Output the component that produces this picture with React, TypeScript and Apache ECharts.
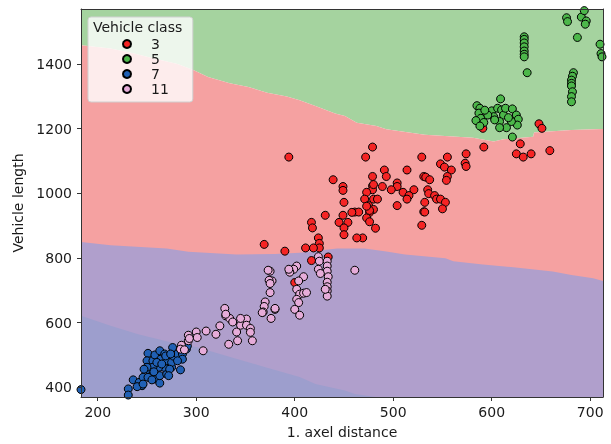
import React, { useEffect, useRef } from 'react';
import * as echarts from 'echarts';

const FONT = "'DejaVu Sans', 'Liberation Sans', sans-serif";
const TEXT = '#1a1a1a';

const X_MIN = 183;
const X_MAX = 713;
const Y_MIN = 370;
const Y_MAX = 1570;

const xTicks = [200, 300, 400, 500, 600, 700];
const yTicks = [400, 600, 800, 1000, 1200, 1400];

const classNames = ['3', '5', '7', '11'];
const classColors = ['#f52424', '#4cb74a', '#2060b4', '#e6acd9'];

const class3 = [
  [591, 1201], [648, 1215], [651, 1201], [592, 1143], [629, 1153], [625, 1122], [632, 1112], [640, 1122],
  [659, 1132], [574, 1122], [573, 1093], [574, 1083], [479, 1143], [472, 1112], [529, 1112], [555, 1112],
  [548, 1091], [552, 1081], [559, 1072], [491, 1072], [514, 1072], [479, 1052], [493, 1052], [531, 1052],
  [533, 1050], [537, 1042], [555, 1052], [554, 1040], [504, 1032], [504, 1021], [489, 1021], [479, 1023],
  [479, 1011], [498, 1011], [510, 1003], [521, 1011], [535, 1011], [536, 999], [516, 993], [514, 982],
  [542, 993], [544, 982], [548, 982], [553, 972], [532, 972], [473, 1003], [471, 982], [480, 982],
  [484, 982], [475, 962], [480, 950], [476, 941], [504, 962], [550, 952], [531, 943], [473, 924],
  [476, 912], [482, 892], [529, 901], [469, 862], [439, 1042], [449, 1021], [449, 1009], [480, 1027],
  [450, 972], [431, 932], [449, 932], [461, 942], [465, 942], [476, 947], [532, 942], [458, 941],
  [473, 960], [445, 910], [454, 910], [417, 910], [418, 893], [450, 893], [450, 872], [463, 862],
  [424, 862], [425, 845], [425, 831], [419, 831], [411, 831], [390, 821], [369, 842], [417, 792],
  [434, 803], [400, 724], [394, 1112],
];

const class5 = [
  [676, 1543], [677, 1531], [691, 1545], [694, 1565], [696, 1533], [695, 1523], [687, 1482], [710, 1461],
  [711, 1432], [712, 1422], [633, 1484], [633, 1476], [633, 1465], [633, 1453], [633, 1440], [633, 1430],
  [633, 1422], [636, 1373], [683, 1373], [682, 1362], [681, 1350], [681, 1340], [681, 1332], [682, 1314],
  [681, 1299], [681, 1283], [609, 1292], [585, 1271], [588, 1263], [587, 1248], [589, 1232], [584, 1225],
  [592, 1219], [600, 1255], [602, 1237], [606, 1263], [610, 1258], [612, 1242], [608, 1222], [614, 1263],
  [621, 1261], [625, 1242], [627, 1229], [626, 1211], [620, 1222], [615, 1203], [608, 1203], [588, 1208],
  [621, 1174], [596, 1242], [603, 1227], [617, 1234], [593, 1257],
];

const class7 = [
  [183, 393], [231, 395], [231, 376], [236, 423], [242, 415], [245, 405], [246, 431], [240, 402],
  [251, 505], [250, 482], [256, 482], [258, 500], [263, 513], [264, 487], [253, 451], [256, 441],
  [251, 431], [258, 426], [263, 413], [263, 436], [270, 441], [275, 462], [267, 462], [262, 462],
  [270, 482], [275, 477], [277, 496], [276, 523], [281, 503], [284, 518], [286, 503], [286, 487],
  [281, 482], [284, 454], [290, 518], [291, 528], [268, 503], [256, 462], [250, 462], [247, 456],
  [260, 477], [265, 472], [273, 456], [272, 436], [255, 423], [257, 448], [269, 497], [274, 503],
  [246, 410],
];

const class11 = [
  [424, 804], [425, 790], [433, 790], [433, 775], [433, 759], [434, 742], [433, 725], [433, 711],
  [433, 698], [433, 682], [431, 703], [424, 765], [426, 752], [461, 762], [402, 775], [399, 765],
  [395, 756], [394, 765], [409, 742], [404, 729], [402, 703], [405, 688], [409, 691], [412, 693],
  [402, 672], [404, 662], [400, 641], [405, 623], [380, 641], [377, 729], [375, 759], [375, 693],
  [373, 762], [374, 731], [375, 721], [370, 664], [369, 650], [368, 633], [376, 613], [380, 644],
  [367, 631], [329, 644], [330, 621], [334, 613], [324, 590], [320, 564], [333, 533], [341, 571],
  [345, 592], [351, 611], [345, 613], [351, 592], [355, 582], [355, 570], [357, 544], [342, 544],
  [310, 574], [300, 571], [301, 554], [292, 561], [292, 544], [285, 530], [284, 518], [307, 513],
  [288, 516], [330, 626], [293, 551], [337, 602],
];

// decision-region boundaries (x, y), left to right
const boundaryGreenRed = [
  [183, 1458], [213, 1448], [236, 1433], [253, 1420], [281, 1400], [297, 1381], [312, 1360], [334, 1340],
  [353, 1329], [372, 1311], [392, 1299], [405, 1288], [421, 1270], [441, 1247], [451, 1239], [463, 1218],
  [483, 1208], [493, 1198], [532, 1181], [581, 1172], [602, 1160], [612, 1167], [642, 1175], [643, 1188],
  [681, 1196], [713, 1199],
];
const boundaryRedPurple = [
  [183, 849], [213, 839], [270, 829], [292, 819], [341, 811], [380, 812], [405, 816], [443, 829],
  [471, 829], [493, 820], [512, 811], [553, 799], [561, 790], [591, 780], [622, 771], [662, 758],
  [681, 747], [703, 737], [713, 729],
];
const boundaryPurpleBlue = [
  [183, 621], [213, 590], [241, 564], [277, 537], [301, 524], [331, 497], [365, 467], [405, 432],
  [421, 410], [451, 390], [461, 379], [482, 370],
];

const regionColors = ['#a5d39f', '#f5a1a1', '#b09fcc', '#9d9ecd'];

const regionPolygons = [
  [...boundaryGreenRed, [X_MAX, Y_MAX], [X_MIN, Y_MAX]],
  [...boundaryGreenRed, [X_MAX, Y_MIN], [X_MIN, Y_MIN]],
  [...boundaryRedPurple, [X_MAX, Y_MIN], [X_MIN, Y_MIN]],
  [...boundaryPurpleBlue, [X_MIN, Y_MIN]],
];

const classData = [class3, class5, class7, class11];

export default function App() {
  const ref = useRef<HTMLDivElement>(null);

  useEffect(() => {
    if (!ref.current) return;
    const chart = echarts.init(ref.current, null, { renderer: 'svg' });

    const axisText = { fontFamily: FONT, fontSize: 14, color: TEXT };

    const option: any = {
      animation: false,
      textStyle: { fontFamily: FONT },
      grid: { left: 81, right: 8, top: 9, bottom: 46 },
      xAxis: [
        {
          type: 'value',
          min: X_MIN,
          max: X_MAX,
          z: 10,
          name: '1. axel distance',
          nameLocation: 'middle',
          nameGap: 28,
          nameTextStyle: axisText,
          axisLine: { show: true, onZero: false, lineStyle: { color: '#333', width: 1 } },
          axisTick: { show: true, inside: false, length: 4, customValues: xTicks, lineStyle: { color: '#333' } },
          axisLabel: { show: true, margin: 8, customValues: xTicks, formatter: (v: number) => String(v), ...axisText },
          splitLine: { show: false },
        },
        {
          type: 'value',
          min: X_MIN,
          max: X_MAX,
          position: 'top',
          z: 10,
          axisLine: { show: true, onZero: false, lineStyle: { color: '#333', width: 1 } },
          axisTick: { show: false },
          axisLabel: { show: false },
          splitLine: { show: false },
        },
      ],
      yAxis: [
        {
          type: 'value',
          min: Y_MIN,
          max: Y_MAX,
          z: 10,
          name: 'Vehicle length',
          nameLocation: 'middle',
          nameGap: 51,
          nameTextStyle: axisText,
          axisLine: { show: true, onZero: false, lineStyle: { color: '#333', width: 1 } },
          axisTick: { show: true, inside: false, length: 4, customValues: yTicks, lineStyle: { color: '#333' } },
          axisLabel: { show: true, margin: 9, customValues: yTicks, formatter: (v: number) => String(v), ...axisText },
          splitLine: { show: false },
        },
        {
          type: 'value',
          min: Y_MIN,
          max: Y_MAX,
          position: 'right',
          z: 10,
          axisLine: { show: true, onZero: false, lineStyle: { color: '#333', width: 1 } },
          axisTick: { show: false },
          axisLabel: { show: false },
          splitLine: { show: false },
        },
      ],
      legend: {
        data: classNames,
        orient: 'vertical',
        left: 88,
        top: 17,
        padding: [20, 24, 6, 34],
        itemWidth: 8,
        itemHeight: 8,
        itemGap: 1,
        icon: 'circle',
        backgroundColor: 'rgba(255,255,255,0.8)',
        borderColor: '#d0d0d0',
        borderWidth: 1,
        borderRadius: 3,
        formatter: (name: string) => `{g|}{t|${name}}`,
        textStyle: {
          fontFamily: FONT,
          fontSize: 14,
          color: TEXT,
          rich: {
            g: { width: 15 },
            t: { fontFamily: FONT, fontSize: 14, color: TEXT },
          },
        },
        z: 20,
      },
      graphic: [
        {
          type: 'text',
          left: 93,
          top: 20,
          z: 30,
          style: { text: 'Vehicle class', font: `14px ${FONT}`, fill: TEXT },
        },
      ],
      series: [
        {
          type: 'custom',
          name: 'regions',
          silent: true,
          z: 1,
          xAxisIndex: 0,
          yAxisIndex: 0,
          encode: { x: 0, y: 1 },
          data: regionPolygons.map((_, i) => [X_MIN, Y_MIN, i]),
          renderItem: (_params: any, api: any) => {
            const idx = api.value(2);
            const pts = regionPolygons[idx].map((p) => api.coord(p));
            return {
              type: 'polygon',
              shape: { points: pts },
              style: { fill: regionColors[idx] },
            };
          },
        },
        ...classNames.map((name, i) => ({
          type: 'scatter',
          name,
          z: 3,
          xAxisIndex: 0,
          yAxisIndex: 0,
          symbol: 'circle',
          symbolSize: 8,
          data: classData[i],
          itemStyle: { color: classColors[i], borderColor: '#000', borderWidth: 1, opacity: 1 },
        })),
      ],
    };

    chart.setOption(option);
    return () => chart.dispose();
  }, []);

  return <div ref={ref} style={{ position: 'fixed', left: 0, top: 0, width: 611, height: 444 }} />;
}
